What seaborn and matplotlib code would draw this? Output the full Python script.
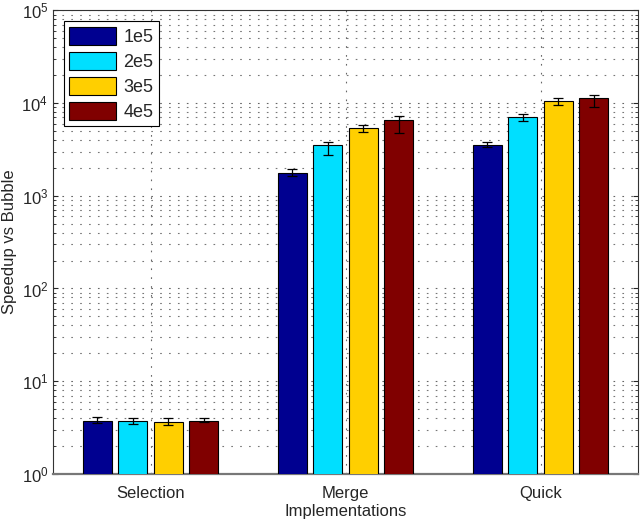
import pandas as pd
import matplotlib
matplotlib.use("Agg")
import matplotlib.pyplot as plt
import seaborn as sns
import numpy as np

# Speedup over bubble sort
implementations = ["Selection", "Merge", "Quick"]
sizes = ["1e5", "2e5", "3e5", "4e5"]

speedup_1e5 = [3.76, 1780, 3510]
speedup_2e5 = [3.73, 3510, 7100]
speedup_3e5 = [3.61, 5400, 10640]
speedup_4e5 = [3.76, 6640, 11350]

# error bars (lower / upper), estimated
err_low_1e5 = [0.19, 140, 150]
err_low_2e5 = [0.27, 750, 630]
err_low_3e5 = [0.23, 470, 1080]
err_low_4e5 = [0.15, 1900, 2180]

err_high_1e5 = [0.33, 170, 300]
err_high_2e5 = [0.32, 270, 600]
err_high_3e5 = [0.41, 465, 830]
err_high_4e5 = [0.29, 690, 900]

colors = ["#000090", "#00DFFF", "#FFCF00", "#800000"]


def build_frame():
    series = [speedup_1e5, speedup_2e5, speedup_3e5, speedup_4e5]
    lows = [err_low_1e5, err_low_2e5, err_low_3e5, err_low_4e5]
    highs = [err_high_1e5, err_high_2e5, err_high_3e5, err_high_4e5]
    rows = []
    for size, vals, lo, hi in zip(sizes, series, lows, highs):
        for impl, v, l, h in zip(implementations, vals, lo, hi):
            rows.append({"impl": impl, "size": size, "speedup": v, "lo": l, "hi": h})
    return pd.DataFrame(rows)


def main():
    df = build_frame()

    sns.set_style("ticks")
    plt.rcParams["font.family"] = ["Liberation Sans", "DejaVu Sans"]
    plt.rcParams["font.size"] = 12

    fig = plt.figure(figsize=(6.4, 5.19), dpi=100)
    ax = fig.add_axes([0.083, 0.087, 0.914, 0.893])

    sns.barplot(
        data=df, x="impl", y="speedup", hue="size",
        order=implementations, hue_order=sizes,
        palette=colors, width=0.728, gap=0.19,
        edgecolor="black", linewidth=0.8, errorbar=None,
        saturation=1, ax=ax, zorder=3,
    )
    ax.set_yscale("log")
    ax.set_ylim(1, 1e5)
    ax.set_xlim(-0.5, 2.5)

    # error bars on top of each bar
    for size, container in zip(sizes, ax.containers):
        sub = df[df["size"] == size].set_index("impl").loc[implementations]
        xs = [p.get_x() + p.get_width() / 2 for p in container]
        ax.errorbar(xs, sub["speedup"], yerr=[sub["lo"], sub["hi"]],
                    fmt="none", ecolor="black", elinewidth=0.9,
                    capsize=3.5, capthick=0.9, zorder=4)

    # MATLAB style sparse dotted grid
    dots = (0, (1.5, 6.5))
    ax.set_axisbelow(True)
    ax.grid(which="major", axis="both", linestyle=dots, color="#666666", linewidth=0.8)
    ax.grid(which="minor", axis="y", linestyle=dots, color="#777777", linewidth=0.8)

    ax.tick_params(which="both", direction="in", right=True, top=True, labelsize=12)
    ax.tick_params(axis="x", length=0, pad=9)
    for sp in ax.spines.values():
        sp.set_color("#333333")
        sp.set_linewidth(0.8)
    ax.spines["bottom"].set_color("#777777")
    ax.spines["bottom"].set_linewidth(1.6)

    ax.set_xlabel("Implementations", fontsize=12, labelpad=2)
    ax.set_ylabel("Speedup vs Bubble", fontsize=12, labelpad=3)

    handles, labels = ax.get_legend_handles_labels()
    leg = ax.legend(handles, labels, loc="upper left", fontsize=13,
                    frameon=True, fancybox=False, edgecolor="black",
                    framealpha=1, handlelength=2.6, handleheight=1.15,
                    labelspacing=0.33, borderpad=0.3, handletextpad=0.4,
                    borderaxespad=0.6)
    leg.get_frame().set_linewidth(0.8)

    fig.savefig("out.png", dpi=100)


if __name__ == "__main__":
    main()
